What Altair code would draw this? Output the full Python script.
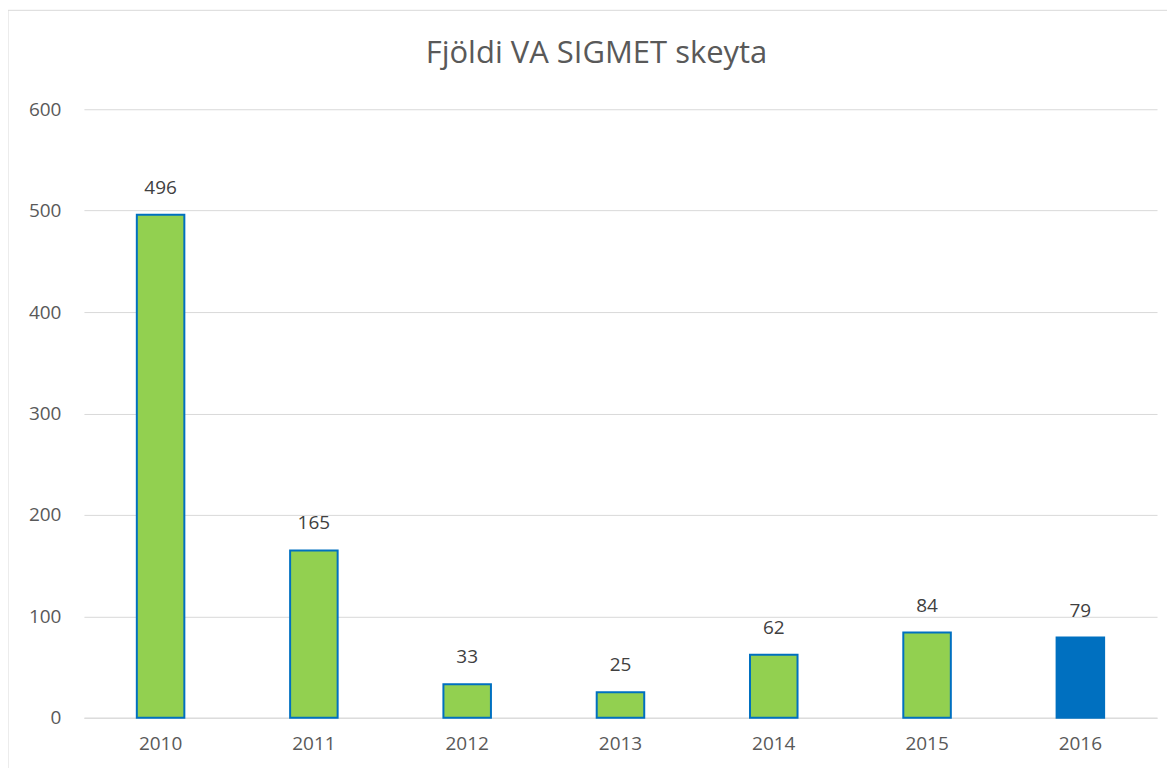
import altair as alt
import pandas as pd

years = ["2010", "2011", "2012", "2013", "2014", "2015", "2016"]
counts = [496, 165, 33, 25, 62, 84, 79]
fills = ["#92D050", "#92D050", "#92D050", "#92D050", "#92D050", "#92D050", "#0070C0"]

df = pd.DataFrame({"year": years, "count": counts, "fill": fills})

FONT = "Open Sans"
W, H = 1074, 609

x = alt.X("year:N", sort=years, title=None,
          scale=alt.Scale(paddingInner=0.69, paddingOuter=0.345),
          axis=alt.Axis(labelAngle=0, labelFontSize=19, labelColor="#595959", labelFont=FONT,
                        ticks=False, domain=True, domainColor="#d9d9d9", domainWidth=1,
                        labelPadding=17, grid=False))
y = alt.Y("count:Q", title=None,
          scale=alt.Scale(domain=[0, 600], nice=False),
          axis=alt.Axis(values=[0, 100, 200, 300, 400, 500, 600], labelFontSize=19,
                        labelColor="#595959", labelFont=FONT, ticks=False, domain=False,
                        gridColor="#d9d9d9", gridWidth=1, labelPadding=23))

frame = alt.Chart(pd.DataFrame({"a": [0]})).mark_rect(
    fill=None, stroke="#d9d9d9", strokeWidth=1
).encode(x=alt.value(-76), x2=alt.value(W + 200), y=alt.value(-99), y2=alt.value(H + 200))

bars = alt.Chart(df).mark_bar(stroke="#0070C0", strokeWidth=2).encode(
    x=x, y=y, fill=alt.Fill("fill:N", scale=None)
)

labels = alt.Chart(df).mark_text(
    baseline="bottom", dy=-17, fontSize=19, color="#404040", font=FONT
).encode(x=alt.X("year:N", sort=years), y="count:Q", text="count:Q")

chart = alt.layer(frame, bars, labels).properties(
    width=W, height=H,
    title=alt.TitleParams("Fjöldi VA SIGMET skeyta", fontSize=31, font=FONT,
                          fontWeight="normal", color="#595959", anchor="middle",
                          dx=-24, offset=-60),
    autosize=alt.AutoSizeParams(type="none"),
    padding={"left": 76, "top": 101, "right": 10, "bottom": 50},
).configure_view(stroke=None)

chart.save("out.html", embed_options={"renderer": "svg", "actions": False})
